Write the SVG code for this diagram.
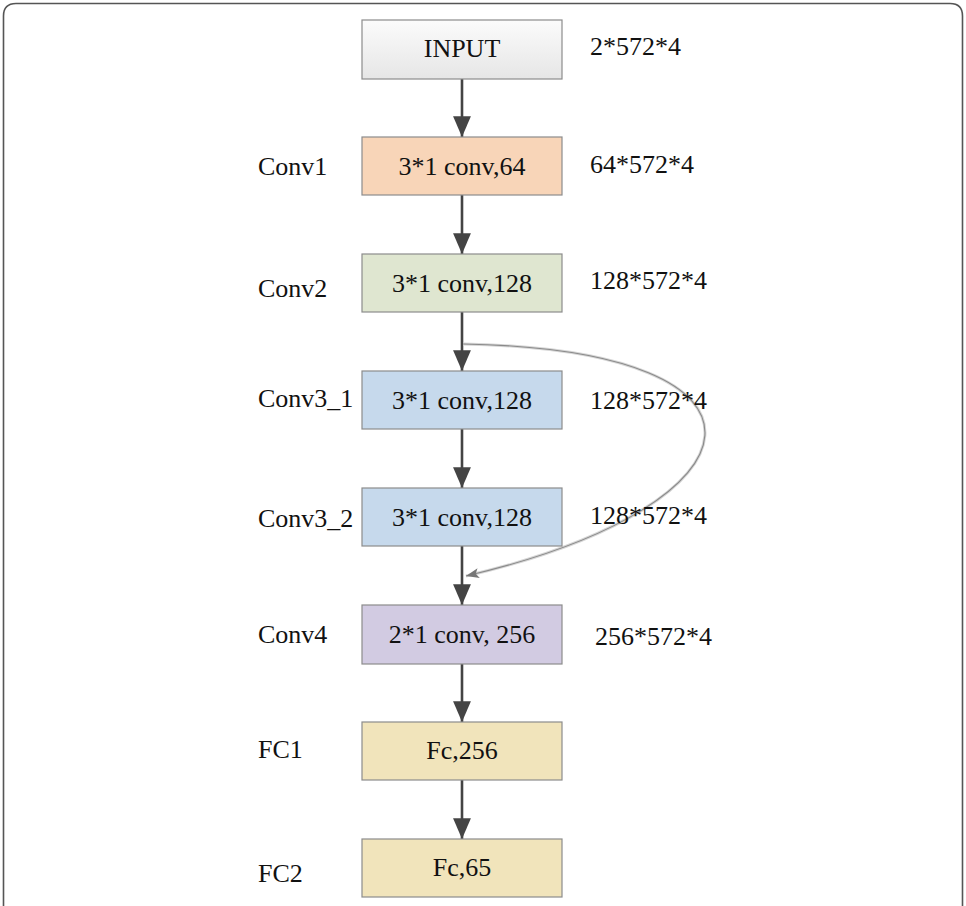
<svg xmlns="http://www.w3.org/2000/svg" width="966" height="906" viewBox="0 0 966 906">
<style>
text{font-family:'Liberation Serif','Times New Roman','DejaVu Serif',serif;font-size:26px;fill:#111}
.c{text-anchor:middle}
.box{stroke:#8c8c8c;stroke-width:1.2}
.arr{stroke:#444;stroke-width:2.6;fill:none;marker-end:url(#ah)}
</style>
<defs>
<linearGradient id="gi" x1="0" y1="0" x2="0" y2="1"><stop offset="0" stop-color="#fbfbfb"/><stop offset="1" stop-color="#e6e6e6"/></linearGradient>
<marker id="ah" markerWidth="8" markerHeight="8" refX="7" refY="3" orient="auto" markerUnits="strokeWidth" viewBox="0 0 7 6"><path d="M0,0 L7,3 L0,6 Z" fill="#444"/></marker>
<marker id="ah2" markerWidth="14" markerHeight="12" refX="13" refY="5" orient="auto" markerUnits="userSpaceOnUse" viewBox="0 0 14 10"><path d="M0,0 L13,5 L0,10 L3,5 Z" fill="#777"/></marker>
</defs>
<rect width="966" height="906" fill="#fff"/>
<path d="M3.5,906 V16 Q3.5,3.5 16,3.5 H950 Q962.5,3.5 962.5,16 V906" fill="none" stroke="#555" stroke-width="1.6"/>
<g id="connectors">
<line class="arr" x1="462" y1="79" x2="462" y2="137"/>
<line class="arr" x1="462" y1="195" x2="462" y2="254"/>
<line class="arr" x1="462" y1="312" x2="462" y2="371"/>
<line class="arr" x1="462" y1="429" x2="462" y2="488"/>
<line class="arr" x1="462" y1="546" x2="462" y2="605"/>
<line class="arr" x1="462" y1="664" x2="462" y2="722"/>
<line class="arr" x1="462" y1="780" x2="462" y2="839"/>
<path d="M463,344 C800,350 770,505 466,576" fill="none" stroke="#d6d6d6" stroke-width="3"/>
<path d="M463,344 C800,350 770,505 466,576" fill="none" stroke="#8a8a8a" stroke-width="1.1" marker-end="url(#ah2)"/>
</g>
<g id="input"><rect class="box" x="362" y="20" width="200" height="59" fill="url(#gi)"/><text class="c" x="462" y="57">INPUT</text><text x="590" y="55">2*572*4</text></g>
<g id="conv1"><rect class="box" x="362" y="137" width="200" height="58" fill="#f8d5b8"/><text class="c" x="462" y="175">3*1 conv,64</text><text x="258" y="175">Conv1</text><text x="590" y="173">64*572*4</text></g>
<g id="conv2"><rect class="box" x="362" y="254" width="200" height="58" fill="#dfe6d0"/><text class="c" x="462" y="292">3*1 conv,128</text><text x="258" y="297">Conv2</text><text x="590" y="289">128*572*4</text></g>
<g id="conv3_1"><rect class="box" x="362" y="371" width="200" height="58" fill="#c6d9ec"/><text class="c" x="462" y="409">3*1 conv,128</text><text x="258" y="407">Conv3_1</text><text x="590" y="409">128*572*4</text></g>
<g id="conv3_2"><rect class="box" x="362" y="488" width="200" height="58" fill="#c6d9ec"/><text class="c" x="462" y="526">3*1 conv,128</text><text x="258" y="527">Conv3_2</text><text x="590" y="524">128*572*4</text></g>
<g id="conv4"><rect class="box" x="362" y="605" width="200" height="59" fill="#d2cbe2"/><text class="c" x="462" y="643">2*1 conv, 256</text><text x="258" y="643">Conv4</text><text x="595" y="645">256*572*4</text></g>
<g id="fc1"><rect class="box" x="362" y="722" width="200" height="58" fill="#f1e4bb"/><text class="c" x="462" y="759">Fc,256</text><text x="258" y="758">FC1</text></g>
<g id="fc2"><rect class="box" x="362" y="839" width="200" height="58" fill="#f1e4bb"/><text class="c" x="462" y="876">Fc,65</text><text x="258" y="882">FC2</text></g>
</svg>
